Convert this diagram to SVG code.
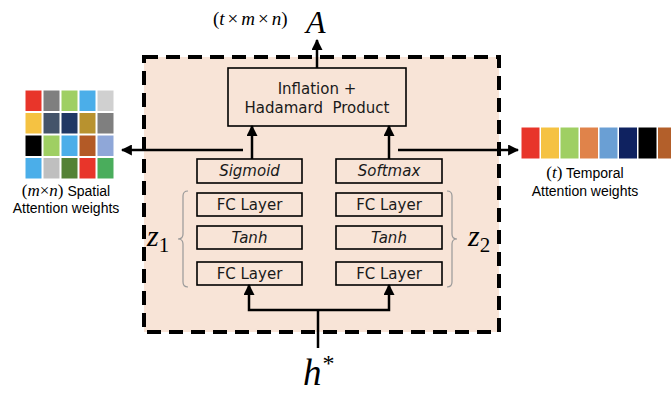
<svg xmlns="http://www.w3.org/2000/svg" width="671" height="394" viewBox="0 0 671 394">
<defs>
<style>
.box{fill:none;stroke:#000;stroke-width:1.6}
.t{font-family:"DejaVu Sans",Verdana,sans-serif;font-size:15px;text-anchor:middle;fill:#1a1a1a}
.i{font-style:italic}
.ln{fill:none;stroke:#000;stroke-width:2.5}
.br{fill:none;stroke:#999;stroke-width:1.2}
.m{font-family:"Liberation Serif","DejaVu Serif",serif;font-style:italic;fill:#000}
.u{font-style:normal}
.lab{font-family:"Liberation Sans",Arial,sans-serif;font-size:14px;fill:#000;text-anchor:middle}
.c{stroke:#fff;stroke-width:1}
</style>
<marker id="ah" viewBox="0 0 10 10" refX="9" refY="5" markerWidth="4.4" markerHeight="4.4" orient="auto-start-reverse" markerUnits="strokeWidth">
<path d="M0,0 L10,5 L0,10 z" fill="#000"/>
</marker>
</defs>
<rect width="671" height="394" fill="#fff"/>
<g id="container">
<rect x="144" y="57" width="355" height="275" fill="#f8e4d7" stroke="#000" stroke-width="4" stroke-dasharray="14,8"/>
</g>
<g id="inflation">
<rect class="box" x="228" y="68" width="178" height="58"/>
<text class="t" x="317" y="94">Inflation +</text>
<text class="t" x="317" y="113" xml:space="preserve">Hadamard  Product</text>
</g>
<g id="sigmoid"><rect class="box" x="197" y="159" width="105" height="24"/><text class="t i" x="249.5" y="176">Sigmoid</text></g>
<g id="fc1a"><rect class="box" x="197" y="193" width="105" height="23"/><text class="t" x="249.5" y="210">FC Layer</text></g>
<g id="tanh1"><rect class="box" x="197" y="226" width="105" height="23"/><text class="t i" x="249.5" y="243">Tanh</text></g>
<g id="fc1b"><rect class="box" x="197" y="262" width="105" height="23"/><text class="t" x="249.5" y="279">FC Layer</text></g>
<g id="softmax"><rect class="box" x="336" y="159" width="106" height="24"/><text class="t i" x="389" y="176">Softmax</text></g>
<g id="fc2a"><rect class="box" x="336" y="193" width="106" height="23"/><text class="t" x="389" y="210">FC Layer</text></g>
<g id="tanh2"><rect class="box" x="336" y="226" width="106" height="23"/><text class="t i" x="389" y="243">Tanh</text></g>
<g id="fc2b"><rect class="box" x="336" y="262" width="106" height="23"/><text class="t" x="389" y="279">FC Layer</text></g>
<g id="z1">
<path class="br" d="M188,191 Q183,191 183,196 L183,234 Q183,239 178,239 Q183,239 183,244 L183,282 Q183,287 188,287"/>
<text class="m" x="147" y="246" font-size="30">z<tspan class="u" font-size="21" dy="6">1</tspan></text>
</g>
<g id="z2">
<path class="br" d="M447,191 Q452,191 452,196 L452,234 Q452,239 457,239 Q452,239 452,244 L452,282 Q452,287 447,287"/>
<text class="m" x="468" y="246" font-size="30">z<tspan class="u" font-size="21" dy="6">2</tspan></text>
</g>
<g id="output-A">
<text class="m" x="213" y="25" font-size="19"><tspan class="u">(</tspan>t<tspan class="u" dx="3">×</tspan><tspan dx="3">m</tspan><tspan class="u" dx="3">×</tspan><tspan dx="3">n</tspan><tspan class="u">)</tspan></text>
<text class="m" x="306" y="33" font-size="32">A</text>
</g>
<g id="input-h">
<text class="m" x="303" y="385" font-size="37">h<tspan class="u" font-size="24" dx="1" dy="-14">*</tspan></text>
</g>
<g id="spatial">
<rect class="c" x="25" y="90" width="17" height="21.5" fill="#e8352a"/>
<rect class="c" x="43" y="90" width="17" height="21.5" fill="#7f7f7f"/>
<rect class="c" x="61" y="90" width="17" height="21.5" fill="#9fcf63"/>
<rect class="c" x="79" y="90" width="17" height="21.5" fill="#4baee9"/>
<rect class="c" x="97" y="90" width="17" height="21.5" fill="#d0d0d0"/>
<rect class="c" x="25" y="112.5" width="17" height="21.5" fill="#f5c242"/>
<rect class="c" x="43" y="112.5" width="17" height="21.5" fill="#44546a"/>
<rect class="c" x="61" y="112.5" width="17" height="21.5" fill="#203864"/>
<rect class="c" x="79" y="112.5" width="17" height="21.5" fill="#b8922f"/>
<rect class="c" x="97" y="112.5" width="17" height="21.5" fill="#7f7f7f"/>
<rect class="c" x="25" y="135" width="17" height="21.5" fill="#000000"/>
<rect class="c" x="43" y="135" width="17" height="21.5" fill="#9fcf63"/>
<rect class="c" x="61" y="135" width="17" height="21.5" fill="#4baee9"/>
<rect class="c" x="79" y="135" width="17" height="21.5" fill="#b35a26"/>
<rect class="c" x="97" y="135" width="17" height="21.5" fill="#8fa7d8"/>
<rect class="c" x="25" y="157.5" width="17" height="21.5" fill="#4baee9"/>
<rect class="c" x="43" y="157.5" width="17" height="21.5" fill="#bfbfbf"/>
<rect class="c" x="61" y="157.5" width="17" height="21.5" fill="#548235"/>
<rect class="c" x="79" y="157.5" width="17" height="21.5" fill="#e8352a"/>
<rect class="c" x="97" y="157.5" width="17" height="21.5" fill="#4aad5c"/>
<text class="lab" x="66" y="196"><tspan class="m" font-size="17"><tspan class="u">(</tspan>m<tspan class="u">×</tspan>n<tspan class="u">)</tspan></tspan> Spatial</text>
<text class="lab" x="66" y="213">Attention weights</text>
</g>
<g id="temporal">
<rect class="c" x="521" y="127" width="19" height="32" fill="#e8352a"/>
<rect class="c" x="540.5" y="127" width="19" height="32" fill="#f5c242"/>
<rect class="c" x="560" y="127" width="19" height="32" fill="#9fcf63"/>
<rect class="c" x="579.5" y="127" width="19" height="32" fill="#e0834a"/>
<rect class="c" x="599" y="127" width="19" height="32" fill="#6a9fd4"/>
<rect class="c" x="618.5" y="127" width="19" height="32" fill="#0f2260"/>
<rect class="c" x="638" y="127" width="19" height="32" fill="#000000"/>
<rect class="c" x="657.5" y="127" width="19" height="32" fill="#b35f2a"/>
<text class="lab" x="585" y="178"><tspan class="m" font-size="17"><tspan class="u">(</tspan>t<tspan class="u">)</tspan></tspan> Temporal</text>
<text class="lab" x="585" y="196">Attention weights</text>
</g>
<g id="connectors">
<line class="ln" x1="317" y1="68" x2="317" y2="40" marker-end="url(#ah)"/>
<line class="ln" x1="252" y1="159" x2="252" y2="126" marker-end="url(#ah)"/>
<line class="ln" x1="389" y1="159" x2="389" y2="126" marker-end="url(#ah)"/>
<line class="ln" x1="243" y1="150" x2="122" y2="150" marker-end="url(#ah)"/>
<line class="ln" x1="398" y1="150" x2="518" y2="150" marker-end="url(#ah)"/>
<line class="ln" x1="318" y1="348" x2="318" y2="310"/>
<polyline class="ln" points="249,285 249,310 389,310 389,285" marker-start="url(#ah)" marker-end="url(#ah)"/>
</g>
</svg>
